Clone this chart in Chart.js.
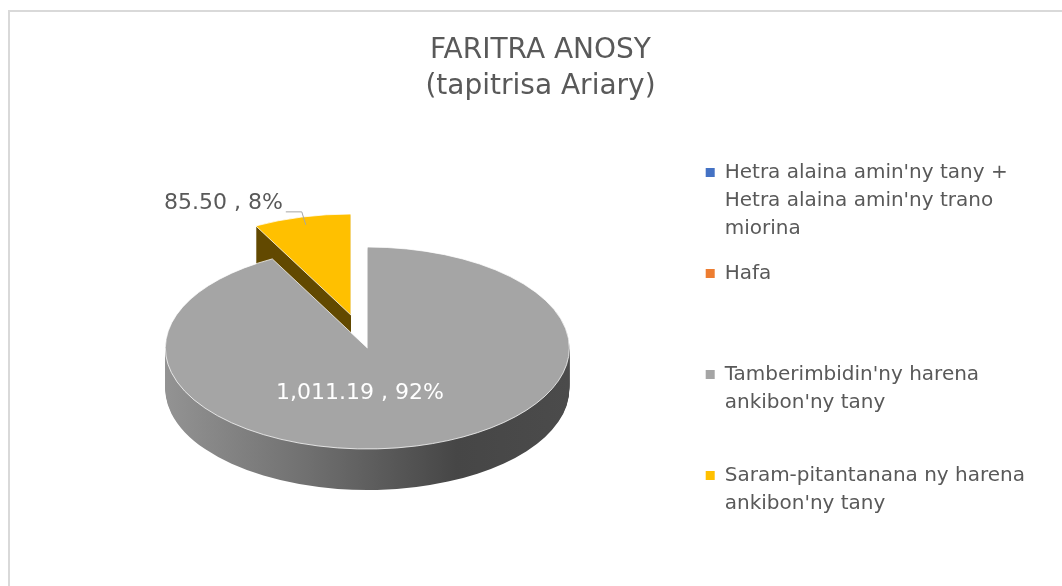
<!DOCTYPE html>
<html>
<head>
<meta charset="utf-8">
<script src="https://cdn.jsdelivr.net/npm/chart.js@4.4.0/dist/chart.umd.min.js"></script>
<style>
  html, body { margin: 0; padding: 0; background: #fff; overflow: hidden; }
  #frame {
    position: absolute; left: 8px; top: 10px; width: 1054px; height: 590px;
    border-left: 2px solid #d9d9d9; border-top: 2px solid #d9d9d9;
  }
</style>
</head>
<body>
<div id="frame"><canvas id="chart"></canvas></div>
<script>
const titleLines = ["FARITRA ANOSY", "(tapitrisa Ariary)"];
const categories = [
  "Hetra alaina amin'ny tany + Hetra alaina amin'ny trano miorina",
  "Hafa",
  "Tamberimbidin'ny harena ankibon'ny tany",
  "Saram-pitantanana ny harena ankibon'ny tany"
];
const values = [0, 0, 1011.19, 85.50];
const colors = ["#4472C4", "#ED7D31", "#A5A5A5", "#FFC000"];

const FONT = "'DejaVu Sans'";
const TEXT = "#595959";

function wrapText(ctx, str, maxW) {
  const words = str.split(" ");
  const lines = [];
  let cur = "";
  words.forEach(w => {
    const test = cur ? cur + " " + w : w;
    if (cur && ctx.measureText(test).width > maxW) {
      lines.push(cur);
      cur = w;
    } else {
      cur = test;
    }
  });
  if (cur) lines.push(cur);
  return lines;
}

function fmt(v) {
  return v.toLocaleString("en-US", { minimumFractionDigits: 2, maximumFractionDigits: 2 });
}

// fake 3d pie: squash the pie vertically and extrude every slice downward
const pie3d = {
  id: "pie3d",
  afterDatasetsUpdate(chart, args, opts) {
    const meta = chart.getDatasetMeta(0);
    meta.data.forEach((arc, i) => {
      const d = opts.explode[i] || 0;
      if (!d) return;
      const mid = (arc.startAngle + arc.endAngle) / 2;
      arc.x += Math.cos(mid) * d;
      arc.y += Math.sin(mid) * d;
    });
  },
  beforeDatasetsDraw(chart, args, opts) {
    const { ctx, chartArea: a } = chart;
    const cx = (a.left + a.right) / 2;
    const cy = (a.top + a.bottom) / 2;
    ctx.save();
    ctx.translate(0, cy);
    ctx.scale(1, opts.tilt);
    ctx.translate(0, -cy);

    const meta = chart.getDatasetMeta(0);
    const r = meta.data[0].outerRadius;
    const grad = ctx.createLinearGradient(cx - r, 0, cx + r, 0);
    grad.addColorStop(0, "#939393");
    grad.addColorStop(0.35, "#707070");
    grad.addColorStop(0.72, "#464646");
    grad.addColorStop(1, "#4b4b4b");
    const sides = ["#2a4a80", "#8a4a1a", grad, "#624900"];

    // back slices first
    const order = meta.data.map((arc, i) => i)
      .filter(i => meta.data[i].circumference > 0)
      .sort((i, j) => meta.data[i].y - meta.data[j].y);
    order.forEach(i => {
      const arc = meta.data[i];
      const saved = arc.options;
      arc.options = Object.assign({}, saved, { backgroundColor: sides[i], borderWidth: 0 });
      for (let k = opts.depth; k >= 1; k--) {
        ctx.save();
        ctx.translate(0, k / opts.tilt);
        arc.draw(ctx);
        ctx.restore();
      }
      arc.options = saved;
    });
  },
  afterDatasetsDraw(chart, args, opts) {
    const { ctx, chartArea: a } = chart;
    ctx.restore();
    const cy = (a.top + a.bottom) / 2;
    const sy = y => cy + (y - cy) * opts.tilt;
    const data = chart.data.datasets[0].data;
    const total = data.reduce((s, v) => s + v, 0);
    const meta = chart.getDatasetMeta(0);

    ctx.save();
    ctx.font = "22px " + FONT;
    ctx.textBaseline = "middle";
    meta.data.forEach((arc, i) => {
      const v = data[i];
      if (!v) return;
      const text = fmt(v) + " , " + Math.round(v / total * 100) + "%";
      const mid = (arc.startAngle + arc.endAngle) / 2;
      const lab = opts.labels[i];
      if (lab.outside) {
        const ax = arc.x + Math.cos(mid) * arc.outerRadius * lab.dist;
        const ay = sy(arc.y + Math.sin(mid) * arc.outerRadius * lab.dist);
        const ex = ax - 4, ey = ay - 13;
        ctx.strokeStyle = "#a6a6a6";
        ctx.lineWidth = 1;
        ctx.beginPath();
        ctx.moveTo(ax, ay);
        ctx.lineTo(ex, ey);
        ctx.lineTo(ex - 16, ey);
        ctx.stroke();
        ctx.fillStyle = TEXT;
        ctx.textAlign = "right";
        ctx.fillText(text, ex - 19, ey - 9);
      } else {
        const px = arc.x + Math.cos(mid) * arc.outerRadius * lab.dist + lab.dx;
        const py = sy(arc.y + Math.sin(mid) * arc.outerRadius * lab.dist);
        ctx.fillStyle = "#ffffff";
        ctx.textAlign = "center";
        ctx.fillText(text, px, py);
      }
    });
    ctx.restore();
  }
};

new Chart(document.getElementById("chart"), {
  type: "pie",
  data: {
    labels: categories,
    datasets: [{
      data: values,
      backgroundColor: colors,
      borderColor: "#ffffff",
      borderWidth: 1,
      radius: 202,
      hoverOffset: 0
    }]
  },
  plugins: [pie3d],
  options: {
    responsive: true,
    maintainAspectRatio: false,
    animation: false,
    events: [],
    layout: { padding: { left: 36, right: 29, top: 0, bottom: 21 } },
    plugins: {
      pie3d: {
        tilt: 0.5,
        depth: 41,
        explode: [0, 0, 0, 68],
        labels: [null, null, { dist: 0.46, dx: -30 }, { outside: true, dist: 0.92 }]
      },
      title: {
        display: true,
        text: titleLines,
        color: TEXT,
        font: { family: FONT, size: 28, weight: "normal", lineHeight: 36 / 28 },
        padding: { top: 21, bottom: 10 }
      },
      legend: {
        position: "right",
        align: "center",
        fullSize: false,
        // empty title only pushes the entries down a little
        title: { display: true, text: " ", font: { size: 10, lineHeight: 1.6 }, padding: 0 },
        labels: {
          boxWidth: 9,
          boxHeight: 9,
          padding: 17,
          color: TEXT,
          font: { family: FONT, size: 20, lineHeight: 1.4 },
          generateLabels(chart) {
            const ctx = chart.ctx;
            ctx.save();
            ctx.font = "20px " + FONT;
            const items = chart.data.labels.map((lbl, i) => {
              const lines = wrapText(ctx, lbl, 320);
              while (lines.length < 3) lines.push("");
              return {
                text: lines,
                fillStyle: colors[i],
                strokeStyle: colors[i],
                lineWidth: 0,
                fontColor: TEXT,
                hidden: false,
                index: i
              };
            });
            ctx.restore();
            return items;
          }
        }
      },
      tooltip: { enabled: false }
    }
  }
});
</script>
</body>
</html>
